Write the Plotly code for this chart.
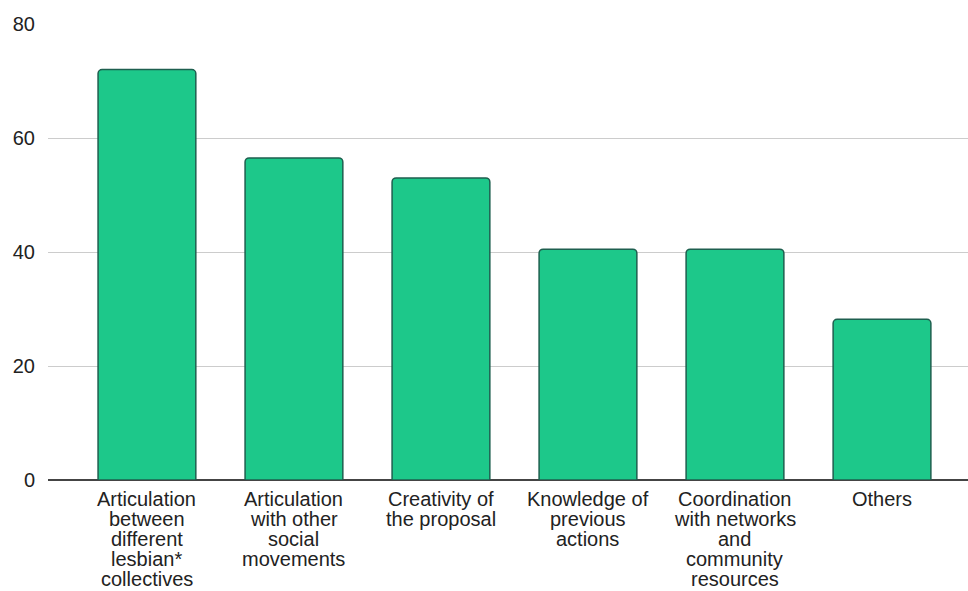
import plotly.graph_objects as go

categories = [
    "Articulation<br>between<br>different<br>lesbian*<br>collectives",
    "Articulation<br>with other<br>social<br>movements",
    "Creativity of<br>the proposal",
    "Knowledge of<br>previous<br>actions",
    "Coordination<br>with networks<br>and<br>community<br>resources",
    "Others",
]
values = [72, 56.5, 53, 40.5, 40.5, 28.2]
y_ticks = [0, 20, 40, 60, 80]

FONT = "Liberation Sans, Arial, sans-serif"
TEXT_COLOR = "#222222"
LABEL_SIZE = 20
LINE_STEP = 19.9  # tight line spacing for the category labels

x_pos = list(range(len(categories)))

fig = go.Figure(
    go.Bar(
        x=x_pos,
        y=values,
        marker=dict(color="#1dc88a", line=dict(color="#1e5f4f", width=1.5)),
        width=0.665,
    )
)

# Category labels: one annotation per text line so the line spacing stays compact
annotations = []
for idx, label in enumerate(categories):
    for i, line in enumerate(label.split("<br>")):
        annotations.append(
            dict(
                x=idx,
                y=0,
                xref="x",
                yref="y",
                text=line,
                showarrow=False,
                xanchor="center",
                yanchor="middle",
                yshift=-(19 + i * LINE_STEP),
                borderpad=0,
                font=dict(family=FONT, size=LABEL_SIZE, color=TEXT_COLOR),
            )
        )

fig.update_layout(
    width=968,
    height=591,
    margin=dict(l=48, r=0, t=24, b=111),
    paper_bgcolor="white",
    plot_bgcolor="white",
    barcornerradius=4,
    showlegend=False,
    font=dict(family=FONT, size=LABEL_SIZE, color=TEXT_COLOR),
    annotations=annotations,
)

fig.update_xaxes(
    range=[-0.673, 5.585],
    showticklabels=False,
    showgrid=False,
    showline=False,
    ticks="",
    zeroline=False,
)

fig.update_yaxes(
    range=[0, 80],
    tickvals=y_ticks,
    showgrid=True,
    gridcolor="#cccccc",
    gridwidth=1,
    zeroline=True,
    zerolinecolor="#444444",
    zerolinewidth=1.5,
    ticks="",
    ticklabelstandoff=12,
    tickfont=dict(size=20),
)

fig.write_html("out.html")
